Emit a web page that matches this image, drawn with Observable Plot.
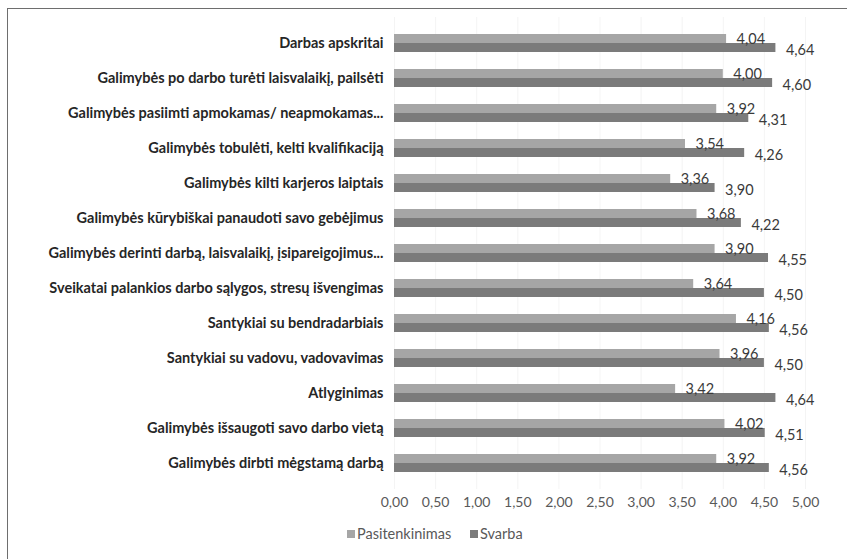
<!DOCTYPE html>
<html>
<head>
<meta charset="utf-8">
<script src="https://cdn.jsdelivr.net/npm/d3@7"></script>
<script src="https://cdn.jsdelivr.net/npm/@observablehq/plot@0.6"></script>
<style>
  html, body { margin: 0; padding: 0; background: #fff; }
  body { width: 847px; height: 559px; position: relative; overflow: hidden; font-family: Lato, "Open Sans", sans-serif; }
  #frame { position: absolute; left: 7px; top: 8px; width: 900px; height: 600px; border-top: 1.5px solid #6e6e6e; border-left: 1.5px solid #6e6e6e; }
  #chart { position: absolute; left: 0; top: 0; line-height: 0; }
  #legend { position: absolute; top: 525px; left: 0; width: 847px; font-size: 14.5px; color: #595959; }
  .item { position: absolute; top: 0; display: flex; align-items: center; white-space: nowrap; }
  .sw { width: 8px; height: 8px; margin-right: 2px; }
</style>
</head>
<body>
<div id="frame"></div>
<div id="chart"></div>
<div id="legend"></div>
<script>
const categories = [
  "Darbas apskritai",
  "Galimybės po darbo turėti laisvalaikį, pailsėti",
  "Galimybės pasiimti apmokamas/ neapmokamas...",
  "Galimybės tobulėti, kelti kvalifikaciją",
  "Galimybės kilti karjeros laiptais",
  "Galimybės kūrybiškai panaudoti savo gebėjimus",
  "Galimybės derinti darbą, laisvalaikį, įsipareigojimus...",
  "Sveikatai palankios darbo sąlygos, stresų išvengimas",
  "Santykiai su bendradarbiais",
  "Santykiai su vadovu, vadovavimas",
  "Atlyginimas",
  "Galimybės išsaugoti savo darbo vietą",
  "Galimybės dirbti mėgstamą darbą"
];
const pasitenkinimas = [4.04, 4.00, 3.92, 3.54, 3.36, 3.68, 3.90, 3.64, 4.16, 3.96, 3.42, 4.02, 3.92];
const svarba = [4.64, 4.60, 4.31, 4.26, 3.90, 4.22, 4.55, 4.50, 4.56, 4.50, 4.64, 4.51, 4.56];
const seriesNames = ["Pasitenkinimas", "Svarba"];
const xTicks = [0, 0.5, 1, 1.5, 2, 2.5, 3, 3.5, 4, 4.5, 5];

const colors = ["#a6a6a6", "#7b7b7b"];
const fmt = d => d.toFixed(2).replace(".", ",");

const dataA = categories.map((c, i) => ({category: c, value: pasitenkinimas[i]}));
const dataB = categories.map((c, i) => ({category: c, value: svarba[i]}));

const chart = Plot.plot({
  width: 847,
  height: 515,
  marginLeft: 394,
  marginRight: 42,
  marginTop: 17,
  marginBottom: 26,
  style: {fontFamily: "Lato, 'Open Sans', sans-serif", background: "transparent", overflow: "visible"},
  x: {domain: [0, 5], ticks: xTicks, tickFormat: fmt, label: null},
  y: {domain: categories, padding: 0.486, round: false, label: null},
  marks: [
    Plot.gridX(xTicks, {stroke: "#d9d9d9", strokeOpacity: 0.3}),
    Plot.barX(dataA, {x: "value", y: "category", fill: colors[0], insetBottom: 9}),
    Plot.barX(dataB, {x: "value", y: "category", fill: colors[1], insetTop: 9}),
    Plot.text(dataA, {x: "value", y: "category", text: d => fmt(d.value), textAnchor: "start", dx: 10, dy: -4, fontSize: 14.5, fill: "#3a3a3a"}),
    Plot.text(dataB, {x: "value", y: "category", text: d => fmt(d.value), textAnchor: "start", dx: 10, dy: 7, fontSize: 14.5, fill: "#3a3a3a"}),
    Plot.axisX({ticks: xTicks, tickFormat: fmt, tickSize: 0, tickPadding: 8, fontSize: 14, fill: "#595959", label: null}),
    Plot.axisY({tickSize: 0, tickPadding: 11, fontSize: 14.5, fontWeight: "bold", fill: "#262626", label: null, letterSpacing: 0.6})
  ]
});
document.getElementById("chart").appendChild(chart);

const legend = document.getElementById("legend");
const lx = [347, 470];
seriesNames.forEach((name, i) => {
  const item = document.createElement("div");
  item.className = "item";
  item.style.left = lx[i] + "px";
  const sw = document.createElement("span");
  sw.className = "sw";
  sw.style.background = colors[i];
  const t = document.createElement("span");
  t.textContent = name;
  item.appendChild(sw);
  item.appendChild(t);
  legend.appendChild(item);
});
</script>
</body>
</html>
